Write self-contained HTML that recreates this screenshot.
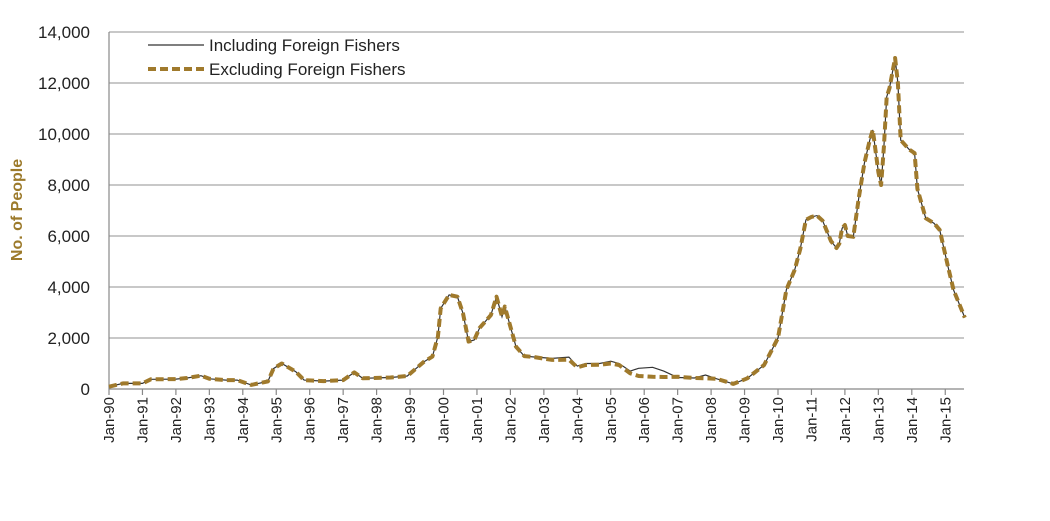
<!DOCTYPE html>
<html><head><meta charset="utf-8"><style>
body{margin:0;background:#fff;}
svg{display:block;font-family:"Liberation Sans",sans-serif;}
</style></head><body>
<svg id="chart" width="1050" height="521" viewBox="0 0 1050 521">
<g id="grid"></g>
<g id="yticks"></g>
<g id="xticks"></g>
<text transform="translate(22,210) rotate(-90)" text-anchor="middle" font-size="16" font-weight="bold" fill="#9C7A2B">No. of People</text>
<g id="series"></g>
<g>
<g>
<line x1="148" y1="45" x2="204" y2="45" stroke="#333" stroke-width="1.2"/>
<text x="209" y="51" font-size="17" fill="#222">Including Foreign Fishers</text></g>
<g>
<line x1="148" y1="69" x2="204" y2="69" stroke="#A07A2C" stroke-width="4" stroke-dasharray="8,4"/>
<text x="209" y="75" font-size="17" fill="#222">Excluding Foreign Fishers</text></g>
</g>
</svg>
<script>
const months=[0,5,12,15,24,28,33,36,42,46,51,55,57,59,62,67,70,77,84,88,91,101,107,113,116,118,119,122,125,127,129,131,133,137,139,141,142,146,149,152,159,165,168,171,176,180,183,187,190,195,199,204,210,214,218,224,229,235,240,243,246,248,250,252,254,256,259,261,262,263,264,265,267,269,271,273,274,276,277,278,279,280,282,283,284,287,289,290,293,296,298,301,303,307];
const excluding=[90,220,220,380,390,430,520,400,350,350,160,250,300,800,1000,680,350,310,350,650,420,450,510,1070,1270,2050,3160,3690,3620,2970,1860,1920,2400,2900,3620,2840,3230,1660,1290,1260,1140,1150,850,940,950,1000,940,610,510,480,470,480,430,420,400,200,420,940,2000,3900,4670,5500,6630,6750,6800,6600,5800,5530,5700,6300,6430,6000,5970,7500,8860,9800,10160,8500,8000,9500,11460,11800,12980,12000,9760,9400,9250,7850,6700,6500,6240,4800,3880,2800];
const including=[90,220,220,380,390,430,520,400,350,350,160,250,300,800,1000,680,350,310,350,650,420,450,510,1070,1270,2050,3160,3690,3620,2970,1860,1920,2400,2900,3620,2840,3230,1660,1290,1260,1200,1250,900,1000,1000,1090,1000,700,810,850,700,450,430,550,400,200,420,940,2000,3900,4670,5500,6630,6750,6800,6600,5800,5530,5700,6300,6430,6000,5970,7500,8860,9800,10160,8500,8000,9500,11460,11800,12980,12000,9760,9400,9250,7850,6700,6500,6240,4800,3880,2800];
const yTicks=[0,2000,4000,6000,8000,10000,12000,14000];
const xLabels=["Jan-90","Jan-91","Jan-92","Jan-93","Jan-94","Jan-95","Jan-96","Jan-97","Jan-98","Jan-99","Jan-00","Jan-01","Jan-02","Jan-03","Jan-04","Jan-05","Jan-06","Jan-07","Jan-08","Jan-09","Jan-10","Jan-11","Jan-12","Jan-13","Jan-14","Jan-15"];
const NS="http://www.w3.org/2000/svg";
const X0=109,PXY=33.45,Y0=389,YTOP=32,XEND=964;
const x=m=>X0+m/12*PXY;
const y=v=>Y0-v/14000*(Y0-YTOP);
function mk(tag,attrs,parent){const e=document.createElementNS(NS,tag);for(const k in attrs)e.setAttribute(k,attrs[k]);parent.appendChild(e);return e;}
const grid=document.getElementById('grid'),yt=document.getElementById('yticks'),xt=document.getElementById('xticks'),ser=document.getElementById('series');
yTicks.forEach(v=>{
 const l=mk('line',{x1:X0,x2:XEND,y1:y(v),y2:y(v),stroke:v===0?'#888':'#a6a6a6','stroke-width':1.2},grid);
 
 
 const t=mk('text',{x:90,y:y(v)+6,'text-anchor':'end','font-size':17,fill:'#222'},yt);
 t.textContent=v.toLocaleString('en-US');
 
 
});
const ax=mk('line',{x1:X0,x2:X0,y1:YTOP,y2:Y0,stroke:'#888','stroke-width':1.2},yt);


xLabels.forEach((s,i)=>{
 const xx=x(i*12);
 const tk=mk('line',{x1:xx,x2:xx,y1:Y0,y2:Y0+6,stroke:'#888','stroke-width':1.2},xt);
 
 
 const t=mk('text',{transform:`translate(${xx+5},${Y0+8}) rotate(-90)`,'text-anchor':'end','font-size':15,fill:'#222'},xt);
 t.textContent=s;
 
 
});
function path(vals){return vals.map((v,i)=>(i?'L':'M')+x(months[i]).toFixed(1)+','+y(v).toFixed(1)).join('');}
const inc=mk('path',{d:path(including),fill:'none',stroke:'#333','stroke-width':1.2},ser);


const exc=mk('path',{d:path(excluding),fill:'none',stroke:'#A07A2C','stroke-width':4,'stroke-dasharray':'8,4','stroke-linejoin':'round'},ser);


</script>
</body></html>
